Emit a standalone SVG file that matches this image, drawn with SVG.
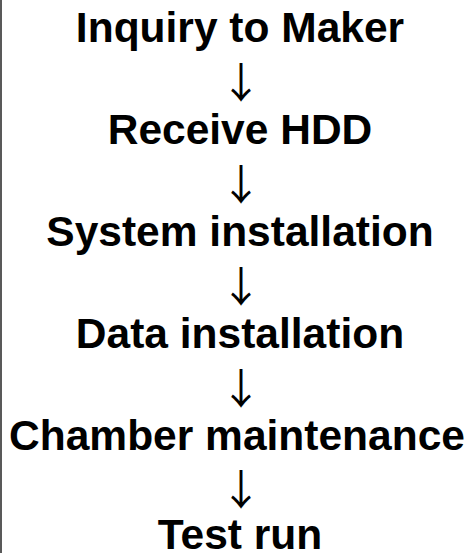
<svg xmlns="http://www.w3.org/2000/svg" width="474" height="553" viewBox="0 0 474 553">
  <style>
    .step { font-family: "Liberation Sans", Arial, sans-serif; font-weight: bold; font-size: 42.5px; fill: #000; text-anchor: middle; }
    .arrow { font-family: "Noto Sans CJK JP", sans-serif; font-weight: normal; font-size: 42px; fill: #000; text-anchor: middle; }
  </style>
  <rect width="474" height="553" fill="#fff"/>
  <line x1="1" y1="0" x2="1" y2="553" stroke="#222" stroke-width="1.5"/>
  <g id="step-inquiry"><text class="step" x="240" y="42">Inquiry to Maker</text></g>
  <g id="step-receive"><text class="step" x="240" y="144">Receive HDD</text></g>
  <g id="step-system"><text class="step" x="240" y="246">System installation</text></g>
  <g id="step-data"><text class="step" x="240" y="348">Data installation</text></g>
  <g id="step-chamber"><text class="step" x="237" y="450">Chamber maintenance</text></g>
  <g id="step-test"><text class="step" x="240" y="549">Test run</text></g>
  <g id="connectors">
    <text class="arrow" x="241" y="98">↓</text>
    <text class="arrow" x="241" y="200">↓</text>
    <text class="arrow" x="241" y="302">↓</text>
    <text class="arrow" x="241" y="404">↓</text>
    <text class="arrow" x="241" y="505">↓</text>
  </g>
</svg>
